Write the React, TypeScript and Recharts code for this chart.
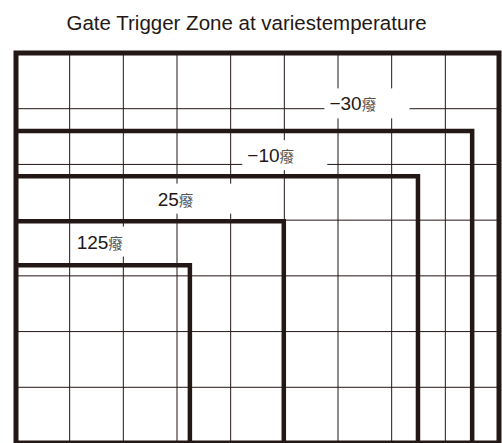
import React from 'react';
import { LineChart, Line, XAxis, YAxis, ReferenceLine, ReferenceArea, ReferenceDot } from 'recharts';

const title = 'Gate Trigger Zone at variestemperature';
const tempNames = ['−30', '−10', '25', '125'];
const unitText = '癈';
const zoneRight = [8.5, 7.49, 4.99, 3.24];
const zoneTop = [5.6, 4.79, 3.98, 3.19];
const labelX = [5.84, 4.31, 2.64, 1.13];
const labelY = [5.97, 5.04, 4.26, 3.49];
const gridX = [1, 2, 3, 4, 5, 6, 7, 8];
const gridY = [1, 2, 3, 4, 5, 6];
const xDomain = [0, 9];
const yDomain = [0, 7];

const INK = '#231815';

const zones = tempNames.map((n, i) => ({
  name: n,
  points: [
    { x: xDomain[0], y: zoneTop[i] },
    { x: zoneRight[i], y: zoneTop[i] },
    { x: zoneRight[i], y: yDomain[0] },
  ],
}));

const makeLabel = (num: string) => (props: any) => {
  const { cx, cy } = props;
  return (
    <g>
      <rect x={cx - 5} y={cy - 22} width={85} height={30} fill="#ffffff" />
      <text x={cx} y={cy} fill={INK}>
        <tspan fontFamily="'Liberation Sans', Arial, sans-serif" fontSize={19}>{num}</tspan>
        <tspan fontFamily="'Noto Sans CJK SC', sans-serif" fontSize={14.5} fill="#555">{unitText}</tspan>
      </text>
    </g>
  );
};

export default function App() {
  return (
    <div style={{ position: 'absolute', left: 0, top: 0, width: 502, height: 443, background: '#fff' }}>
      <LineChart width={502} height={443} margin={{ top: 53, left: 16, right: 3, bottom: 0 }}>
        <XAxis dataKey="x" type="number" domain={xDomain} hide allowDataOverflow />
        <YAxis dataKey="y" type="number" domain={yDomain} hide allowDataOverflow />
        {gridX.map((v) => (
          <ReferenceLine key={'gx' + v} x={v} stroke={INK} strokeWidth={1} />
        ))}
        {gridY.map((v) => (
          <ReferenceLine key={'gy' + v} y={v} stroke={INK} strokeWidth={1} />
        ))}
        {tempNames.map((n, i) => (
          <ReferenceDot
            key={'lab' + n}
            x={labelX[i]}
            y={labelY[i]}
            r={1}
            shape={makeLabel(n)}
          />
        ))}
        <ReferenceArea
          x1={xDomain[0]}
          x2={xDomain[1]}
          y1={yDomain[0]}
          y2={yDomain[1]}
          fill="none"
          fillOpacity={0}
          stroke={INK}
          strokeWidth={5}
        />
        {zones.map((z) => (
          <Line
            key={z.name}
            data={z.points}
            dataKey="y"
            type="linear"
            stroke={INK}
            strokeWidth={4.5}
            strokeLinejoin="miter"
            strokeLinecap="butt"
            dot={false}
            activeDot={false}
            isAnimationActive={false}
          />
        ))}
        <text
          x={246.5}
          y={30}
          textAnchor="middle"
          fontFamily="'Liberation Sans', Arial, sans-serif"
          fontSize={20.5}
          fill={INK}
        >
          {title}
        </text>
      </LineChart>
    </div>
  );
}
